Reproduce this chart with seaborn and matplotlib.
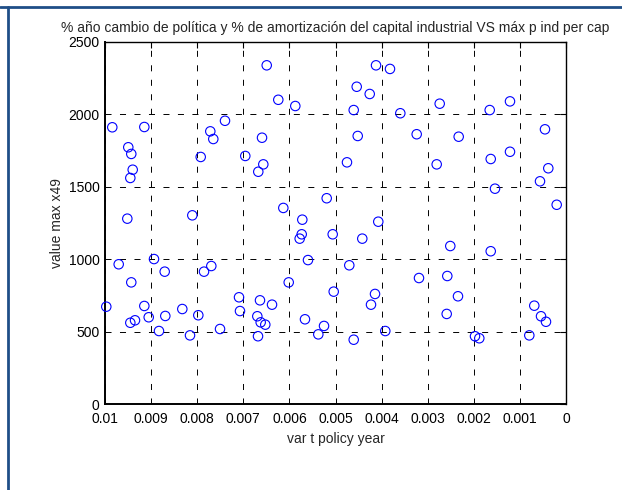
import matplotlib
matplotlib.use("Agg")
import matplotlib.pyplot as plt
import matplotlib.lines as mlines
import numpy as np
import pandas as pd
import seaborn as sns

# policy-change year variable (x) and maximum industrial output per capita (y)
var_t_policy = [
    0.009842, 0.009147, 0.009495, 0.009430, 0.009399, 0.009451, 0.009516, 0.008106,
    0.007924, 0.007716, 0.007651, 0.007397, 0.006957, 0.006594, 0.006675, 0.006566,
    0.009703, 0.008937, 0.008705, 0.009430, 0.009972, 0.009147, 0.009052, 0.009451,
    0.009349, 0.008829, 0.008692, 0.008323, 0.008156, 0.007976, 0.007852, 0.007694,
    0.007505, 0.007093, 0.007072, 0.006696, 0.006638, 0.006681, 0.006623, 0.006523,
    0.006377, 0.006492, 0.006241, 0.005872, 0.004121, 0.003818, 0.004540, 0.004258,
    0.004605, 0.003594, 0.003239, 0.004518, 0.004751, 0.005191, 0.006132, 0.005720,
    0.004072, 0.005733, 0.005777, 0.005061, 0.004419, 0.005597, 0.004701, 0.003189,
    0.006015, 0.005039, 0.004143, 0.004230, 0.005662, 0.005249, 0.005373, 0.004605,
    0.003920, 0.002740, 0.001655, 0.001215, 0.002328, 0.000456, 0.002805, 0.001633,
    0.001215, 0.000384, 0.000564, 0.001540, 0.000202, 0.002510, 0.001633, 0.002575,
    0.002343, 0.002588, 0.000688, 0.000542, 0.000434, 0.001974, 0.001881, 0.000796,
]
value_max = [
    1911, 1913, 1773, 1727, 1618, 1561, 1280, 1303,
    1706, 1883, 1830, 1956, 1713, 1839, 1604, 1655,
    965, 1001, 914, 840, 672, 677, 599, 561,
    578, 504, 608, 656, 474, 613, 914, 953,
    518, 737, 642, 606, 716, 468, 564, 548,
    686, 2339, 2101, 2058, 2339, 2314, 2191, 2141,
    2030, 2008, 1863, 1851, 1669, 1421, 1354, 1273,
    1259, 1172, 1142, 1172, 1142, 994, 958, 870,
    840, 776, 760, 686, 585, 539, 481, 444,
    504, 2074, 2030, 2090, 1846, 1897, 1655, 1692,
    1742, 1628, 1538, 1487, 1376, 1091, 1055, 884,
    744, 622, 679, 606, 568, 468, 454, 474,
]

x_ticks = [0.01, 0.009, 0.008, 0.007, 0.006, 0.005, 0.004, 0.003, 0.002, 0.001, 0]
x_tick_labels = ["0.01", "0.009", "0.008", "0.007", "0.006", "0.005",
                 "0.004", "0.003", "0.002", "0.001", "0"]
y_ticks = [0, 500, 1000, 1500, 2000, 2500]

title = "% año cambio de política y % de amortización del capital industrial VS máx p ind per cap"

df = pd.DataFrame({"x": var_t_policy, "y": value_max})

sns.set_style("white")
plt.rcParams["font.family"] = ["Liberation Sans", "DejaVu Sans"]
plt.rcParams["font.size"] = 10

fig = plt.figure(figsize=(6.22, 4.90), dpi=100)
ax = fig.add_axes([105 / 622, 86 / 490, 461 / 622, 362 / 490])

sns.scatterplot(data=df, x="x", y="y", ax=ax, marker="o", s=46,
                facecolors="none", edgecolor=(0, 0, 1), linewidth=0.8,
                legend=False, zorder=3, clip_on=False)

ax.set_xlim(0.01, 0)
ax.set_ylim(0, 2500)
ax.set_xticks(x_ticks)
ax.set_xticklabels(x_tick_labels)
ax.set_yticks(y_ticks)

ax.grid(True, color="black", linestyle=(0, (6.2, 8.7)), linewidth=0.7)
ax.set_axisbelow(True)
for side in ["left", "right", "top", "bottom"]:
    ax.spines[side].set_visible(True)
    ax.spines[side].set_color("black")
    ax.spines[side].set_linewidth(1.0)
ax.spines["left"].set_linewidth(1.4)
ax.spines["bottom"].set_linewidth(1.4)

ax.tick_params(axis="both", direction="in", length=4, width=0.8,
               top=True, right=True, labelsize=10, colors="black")
ax.tick_params(axis="x", pad=6)
ax.tick_params(axis="y", pad=4)

ax.set_title(title, fontsize=10, pad=7)
ax.set_xlabel("var t policy year", fontsize=10, labelpad=4)
ax.set_ylabel("value max x49", fontsize=10, labelpad=3)

# document frame lines along the top and left edges
frame_color = "#1f4e87"
fig.add_artist(mlines.Line2D([0, 1], [1 - 7 / 490, 1 - 7 / 490],
                             transform=fig.transFigure, color=frame_color, linewidth=2))
fig.add_artist(mlines.Line2D([7.7 / 622, 7.7 / 622], [0, 1 - 7 / 490],
                             transform=fig.transFigure, color=frame_color, linewidth=2))

fig.savefig("out.png", dpi=100)
